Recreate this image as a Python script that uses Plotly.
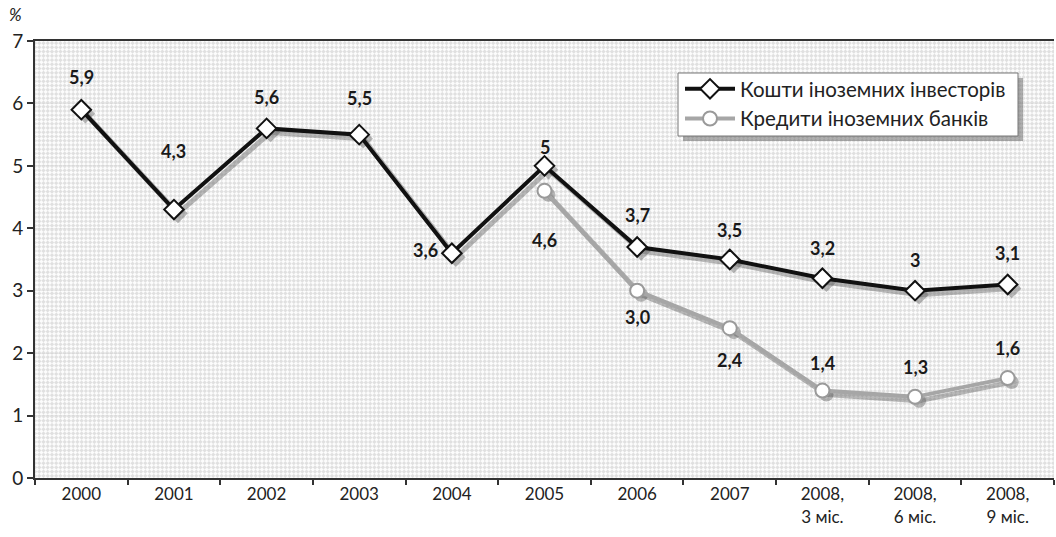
import base64
import plotly.graph_objects as go

# ---- data ----
categories = ["2000", "2001", "2002", "2003", "2004", "2005", "2006", "2007",
              "2008,<br>3 міс.", "2008,<br>6 міс.", "2008,<br>9 міс."]
investors = [5.9, 4.3, 5.6, 5.5, 3.6, 5.0, 3.7, 3.5, 3.2, 3.0, 3.1]
bank_loans = [None, None, None, None, None, 4.6, 3.0, 2.4, 1.4, 1.3, 1.6]
series_names = ["Кошти іноземних інвесторів", "Кредити іноземних банків"]

# ---- style ----
W, H = 1056, 537
ML, MR, MT, MB = 35, 2, 41, 59
PW, PH = W - ML - MR, H - MT - MB
FONT = "Lato"
# label pixel offsets (style only)
inv_shift = [(0, 33), (0, 59), (0, 31), (0, 37), (-26, 3), (0, 19),
             (0, 32), (0, 30), (0, 30), (0, 31), (0, 31)]
bank_shift = [None, None, None, None, None, (0, -49), (0, -26), (0, -32),
              (0, 28), (0, 30), (0, 30)]

def fmt_general(v):
    return f"{v:g}".replace(".", ",")

def fmt_one(v):
    return f"{v:.1f}".replace(".", ",")

def px_x(px):
    return (px - ML) / PW

def px_y(py):
    return (H - MB - py) / PH

# background checker pattern
svg = (f"<svg xmlns='http://www.w3.org/2000/svg' width='{PW}' height='{PH}'>"
       "<defs><pattern id='p' width='6' height='6' patternUnits='userSpaceOnUse' "
       "patternTransform='rotate(45)'><rect width='6' height='6' fill='#fcfcfc'/>"
       "<rect width='3' height='3' fill='#e0e0e0'/><rect x='3' y='3' width='3' height='3' fill='#e0e0e0'/>"
       "</pattern></defs><rect width='100%' height='100%' fill='url(#p)'/></svg>")
svg_uri = "data:image/svg+xml;base64," + base64.b64encode(svg.encode()).decode()

xr = [-0.5, 10.5]
yr = [0, 7]
# shadow offset in data units
dx = 4 / (PW / (xr[1] - xr[0]))
dy = 4 / (PH / (yr[1] - yr[0]))

fig = go.Figure()

# shadows (hidden base axes, shifted)
shadow = "rgba(90,90,90,0.42)"
fig.add_trace(go.Scatter(x=categories, y=investors, mode="lines+markers",
                         line=dict(color=shadow, width=5),
                         marker=dict(symbol="diamond", size=15, color=shadow),
                         showlegend=False, hoverinfo="skip", xaxis="x", yaxis="y"))
fig.add_trace(go.Scatter(x=categories, y=bank_loans, mode="lines+markers",
                         line=dict(color=shadow, width=5),
                         marker=dict(symbol="circle", size=14, color=shadow),
                         showlegend=False, hoverinfo="skip", xaxis="x", yaxis="y"))

# main series (visible overlay axes)
fig.add_trace(go.Scatter(x=categories, y=investors, mode="lines+markers", name=series_names[0],
                         line=dict(color="#111111", width=4),
                         marker=dict(symbol="diamond", size=15, color="white",
                                     line=dict(color="#111111", width=2)),
                         xaxis="x2", yaxis="y2"))
fig.add_trace(go.Scatter(x=categories, y=bank_loans, mode="lines+markers", name=series_names[1],
                         line=dict(color="#a6a6a6", width=4),
                         marker=dict(symbol="circle", size=14, color="white",
                                     line=dict(color="#9a9a9a", width=2)),
                         xaxis="x2", yaxis="y2"))

label_font = dict(family=FONT, size=18, color="#1a1a1a", weight="bold")
annotations = []
for i, (v, s) in enumerate(zip(investors, inv_shift)):
    annotations.append(dict(x=i, y=v, xref="x2", yref="y2", text=fmt_general(v),
                            showarrow=False, xshift=s[0], yshift=s[1], font=label_font))
for i, (v, s) in enumerate(zip(bank_loans, bank_shift)):
    if v is None:
        continue
    annotations.append(dict(x=i, y=v, xref="x2", yref="y2", text=fmt_one(v),
                            showarrow=False, xshift=s[0], yshift=s[1], font=label_font))
annotations.append(dict(x=px_x(15), y=px_y(15), xref="paper", yref="paper",
                        xanchor="center", yanchor="middle",
                        text="<i>%</i>", showarrow=False,
                        font=dict(family=FONT, size=17, color="#222")))

# legend box + shadow drawn as shapes
bx0, bx1, by0, by1 = 678, 1018, 73, 136
shapes = [
    dict(type="rect", xref="paper", yref="paper", layer="above",
         x0=px_x(bx0 + 5), x1=px_x(bx1 + 5), y0=px_y(by1 + 5), y1=px_y(by0 + 5),
         fillcolor="rgba(80,80,80,0.45)", line=dict(width=0)),
    dict(type="rect", xref="paper", yref="paper", layer="above",
         x0=px_x(bx0), x1=px_x(bx1), y0=px_y(by1), y1=px_y(by0),
         fillcolor="white", line=dict(color="#777", width=1)),
]

fig.update_layout(
    width=W, height=H,
    margin=dict(l=ML, r=MR, t=MT, b=MB, autoexpand=False),
    paper_bgcolor="white", plot_bgcolor="rgba(0,0,0,0)",
    font=dict(family=FONT, color="#222"),
    images=[dict(source=svg_uri, xref="paper", yref="paper", x=0, y=1, sizex=1, sizey=1,
                 xanchor="left", yanchor="top", sizing="stretch", layer="below")],
    xaxis=dict(type="category", categoryorder="array", categoryarray=categories,
               range=[xr[0] - dx, xr[1] - dx], visible=False, fixedrange=True, automargin=False),
    yaxis=dict(range=[yr[0] + dy, yr[1] + dy], visible=False, fixedrange=True, automargin=False),
    xaxis2=dict(type="category", categoryorder="array", categoryarray=categories,
                range=xr, overlaying="x", tickson="boundaries", ticks="outside", ticklen=5,
                tickwidth=2, tickcolor="#333", showline=True, linecolor="#333", linewidth=2,
                mirror=True, showgrid=False, tickfont=dict(family=FONT, size=17, color="#222"),
                anchor="y2", automargin=False),
    yaxis2=dict(range=yr, overlaying="y", dtick=1, ticks="outside", ticklen=6, tickwidth=2,
                tickcolor="#333", showline=True, linecolor="#333", linewidth=2,
                showgrid=True, gridcolor="rgba(200,200,200,0.35)", gridwidth=1,
                zeroline=False, tickfont=dict(family=FONT, size=19, color="#222"),
                anchor="x2", automargin=False),
    legend=dict(x=px_x(680), y=px_y(69), xanchor="left", yanchor="top",
                bgcolor="rgba(0,0,0,0)", borderwidth=0,
                font=dict(family=FONT, size=20.5, color="#222"), itemwidth=50,
                tracegroupgap=0),
    annotations=annotations,
    shapes=shapes,
    showlegend=True,
)

fig.write_html("out.html", config={"displayModeBar": False},
               post_script="document.body.style.margin='0px';")
